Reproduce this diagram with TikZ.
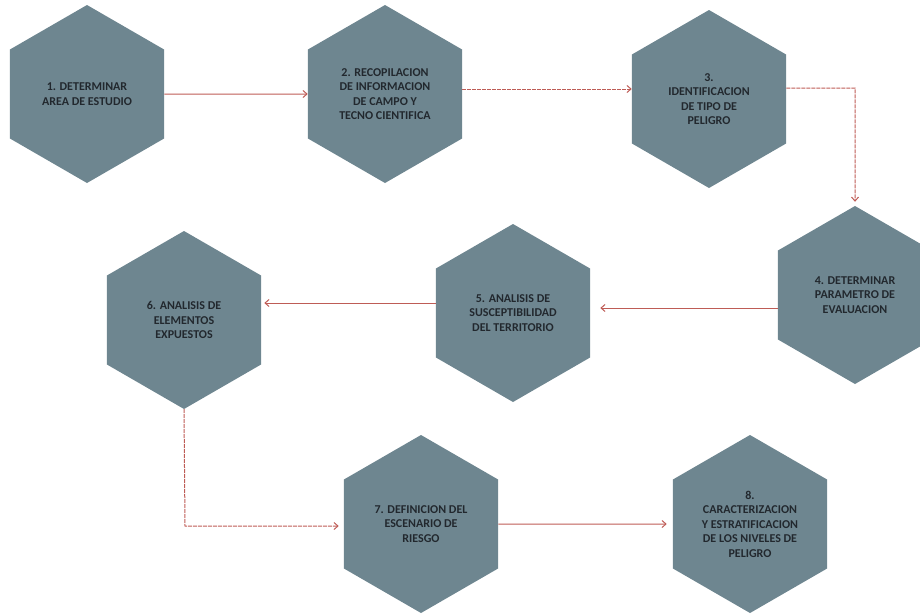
\documentclass[tikz,border=0pt]{standalone}
\usepackage{fontspec}
\setmainfont{Carlito}
\usetikzlibrary{shapes.geometric,arrows.meta,calc}
\definecolor{hexfill}{RGB}{110,134,144}
\definecolor{arrowred}{RGB}{190,92,86}
\definecolor{hextext}{RGB}{34,40,46}
\tikzset{
  hexnode/.style={regular polygon, regular polygon sides=6, regular polygon rotate=30,
    minimum size=178pt, inner sep=0pt, fill=hexfill, draw=none,
    text=hextext, align=center, font=\bfseries\fontsize{12}{14.5}\selectfont},
  flowarrow/.style={draw=arrowred, line width=1pt, -{Straight Barb[length=4pt,width=7pt]}},
  dashflow/.style={flowarrow, dash pattern=on 4pt off 1pt}
}
\begin{document}
\begin{tikzpicture}[x=1pt,y=-1pt]
\useasboundingbox (0,0) rectangle (920,614);
\node[hexnode] (h1) at (87,94) {1. DETERMINAR\\AREA DE ESTUDIO};
\node[hexnode] (h2) at (385,94) {2. RECOPILACION\\DE INFORMACION\\DE CAMPO Y\\TECNO CIENTIFICA};
\node[hexnode] (h3) at (709,99) {3.\\IDENTIFICACION\\DE TIPO DE\\PELIGRO};
\node[hexnode] (h4) at (855,295) {4. DETERMINAR\\PARAMETRO DE\\EVALUACION};
\node[hexnode] (h5) at (513,313) {5. ANALISIS DE\\SUSCEPTIBILIDAD\\DEL TERRITORIO};
\node[hexnode] (h6) at (184,320) {6. ANALISIS DE\\ELEMENTOS\\EXPUESTOS};
\node[hexnode] (h7) at (421,524) {7. DEFINICION DEL\\ESCENARIO DE\\RIESGO};
\node[hexnode] (h8) at (750,524) {8.\\CARACTERIZACION\\Y ESTRATIFICACION\\DE LOS NIVELES DE\\PELIGRO};
\coordinate (c34) at (855,88);
\coordinate (c67) at (185,526);
\draw[flowarrow] (h1.east) -- (h2.west);
\draw[dashflow] ([yshift=5pt]h2.east) -- ([yshift=5pt]h2.east -| h3.west);
\draw[dashflow] ([yshift=11pt]h3.east) -- (c34) -- ([yshift=4pt]h4.north);
\draw[flowarrow] ([yshift=-13pt]h4.west) -- ([yshift=-13pt,xshift=10pt]h4.west -| h5.east);
\draw[flowarrow] ([yshift=10pt]h5.west) -- ([yshift=10pt,xshift=3pt]h5.west -| h6.east);
\draw[dashflow] (h6.south) -- (c67) -- ([xshift=-5pt]c67 -| h7.west);
\draw[flowarrow] (h7.east) -- ([xshift=-6pt]h8.west);
\end{tikzpicture}
\end{document}
